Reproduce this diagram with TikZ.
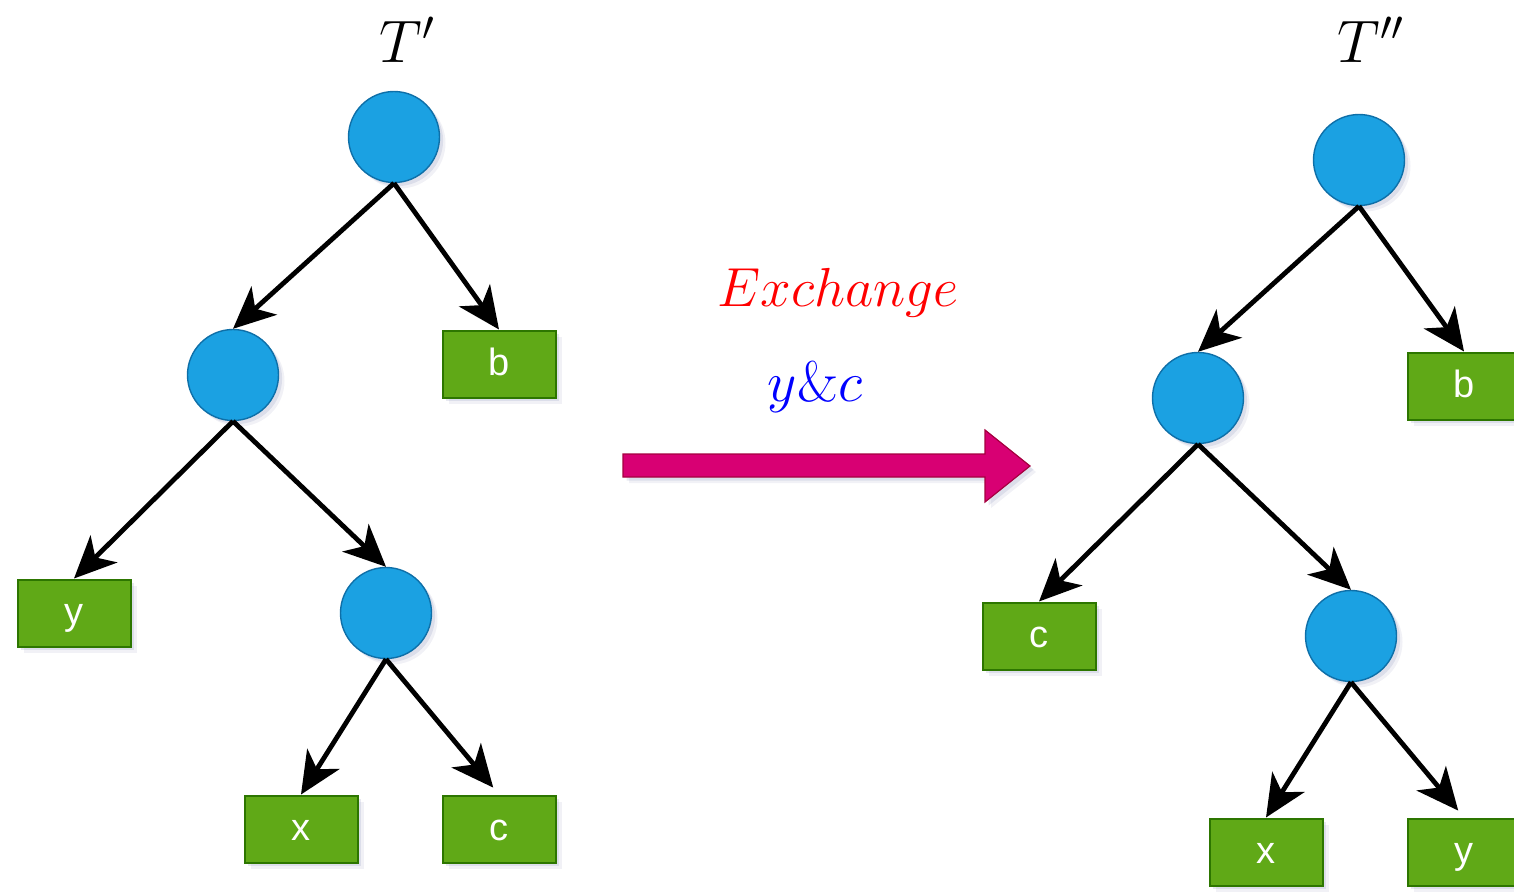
\RequirePackage{fix-cm}
\documentclass[tikz,border=0pt]{standalone}
\usepackage{fontspec}
\newfontfamily\labelfont{Liberation Sans}
\usetikzlibrary{arrows.meta,shadows}
\definecolor{nodeblue}{HTML}{1BA1E2}
\definecolor{nodeblueline}{HTML}{0E6FA8}
\definecolor{leafgreen}{HTML}{60A917}
\definecolor{leafgreenline}{HTML}{2D7600}
\definecolor{swappink}{HTML}{D80073}
\definecolor{swappinkline}{HTML}{A50040}
\definecolor{shadowtone}{HTML}{8A8FB8}

\begin{document}
\begin{tikzpicture}[x=0.5pt,y=-0.5pt,
  softshadow/.style={
    drop shadow={shadow xshift=3pt,shadow yshift=-3pt,opacity=0.12,fill=shadowtone},
    drop shadow={shadow xshift=1.8pt,shadow yshift=-1.8pt,opacity=0.2,fill=shadowtone}},
  inner/.style={circle,minimum size=45.5pt,inner sep=0pt,fill=nodeblue,draw=nodeblueline,line width=0.7pt,softshadow},
  leaf/.style={rectangle,minimum width=56.5pt,minimum height=33.5pt,inner sep=0pt,
    text height=13.5pt,text depth=2pt,
    fill=leafgreen,draw=leafgreenline,line width=1pt,text=white,
    font=\labelfont\fontsize{19}{22}\selectfont,softshadow},
  edge/.style={line width=2.4pt,-{Stealth[length=21pt,width=19pt,inset=6pt]}},
  title/.style={inner sep=0pt,font=\fontsize{30}{33}\selectfont},
  caption/.style={inner sep=0pt}]

\useasboundingbox (0,0) rectangle (1514,894);

% left tree T'
\node[title] (tl) at (407,40) {$T'$};
\node[inner] (lroot) at (394,137) {};
\node[inner] (lmid)  at (233,375) {};
\node[inner] (llow)  at (386,613) {};
\node[leaf]  (lb) at (499,364) {b};
\node[leaf]  (ly) at (74,613)  {y};
\node[leaf]  (lx) at (301,829) {x};
\node[leaf]  (lc) at (499,829) {c};

\draw[edge] (lroot.south) -- (lmid.north);
\draw[edge] (lroot.south) -- (lb.north);
\draw[edge] (lmid.south) -- (ly.north);
\draw[edge] (lmid.south) -- (llow.north);
\draw[edge] (llow.south) -- (lx.north);
\draw[edge,shorten >=4.5pt] (llow.south) -- (lc.north);

% right tree T''
\node[title] (tr) at (1371,40) {$T''$};
\node[inner] (rroot) at (1359,160) {};
\node[inner] (rmid)  at (1198,398) {};
\node[inner] (rlow)  at (1351,636) {};
\node[leaf]  (rb) at (1464,386) {b};
\node[leaf]  (rc) at (1039,636) {c};
\node[leaf]  (rx) at (1266,852) {x};
\node[leaf]  (ry) at (1464,852) {y};

\draw[edge] (rroot.south) -- (rmid.north);
\draw[edge] (rroot.south) -- (rb.north);
\draw[edge] (rmid.south) -- (rc.north);
\draw[edge] (rmid.south) -- (rlow.north);
\draw[edge] (rlow.south) -- (rx.north);
\draw[edge,shorten >=4.5pt] (rlow.south) -- (ry.north);

% exchange step
\node[caption,text=red,font=\fontsize{27.5}{30}\selectfont]  (ex) at (838,293) {$Exchange$};
\node[caption,text=blue,font=\fontsize{28.5}{31}\selectfont] (yc) at (815,387) {$y\&c$};
\draw[fill=swappink,draw=swappinkline,line width=0.6pt,softshadow]
  (623,454) -- (985,454) -- (985,430) -- (1030,466) -- (985,502) -- (985,477) -- (623,477) -- cycle;

\end{tikzpicture}
\end{document}
